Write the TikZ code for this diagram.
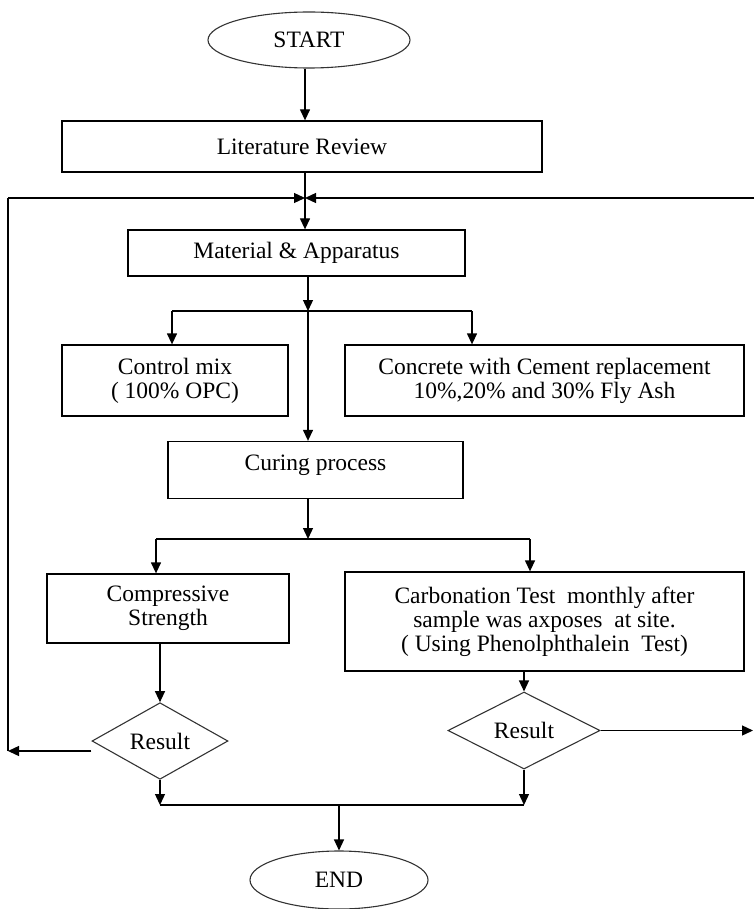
\documentclass[tikz,border=0pt]{standalone}
\usepackage{fontspec}
\setmainfont{Liberation Serif}
\usetikzlibrary{shapes.geometric,arrows.meta}

\tikzset{
  process/.style={rectangle, draw=black, line width=1.3pt, align=center, inner sep=0pt},
  decision/.style={diamond, draw=black!80, line width=1.1pt, inner sep=0pt,
    minimum width=136, minimum height=72},
  terminal/.style={ellipse, draw=black!80, line width=1.1pt, inner sep=0pt},
  arrow/.style={draw=black, -{Triangle[length=11pt,width=10pt]}}
}

\begin{document}
\begin{tikzpicture}[x=1pt, y=-1pt, line width=1.3pt,
  every node/.style={font=\fontsize{23.5}{24}\selectfont}]
\useasboundingbox (0,0) rectangle (754,909);

\node [terminal, minimum width=202, minimum height=56] (start) at (309,40) {START};
\node [process, minimum width=480, minimum height=51] (lit) at (302,146.5) {Literature Review};
\node [process, minimum width=337, minimum height=46] (mat) at (296.5,253) {Material \& Apparatus};
\node [process, minimum width=226, minimum height=71] (ctrl) at (175,380.5) {Control mix\\( 100\% OPC)};
\node [process, minimum width=399, minimum height=71] (conc) at (544.5,380.5)
  {Concrete with Cement replacement\\10\%,20\% and 30\% Fly Ash};
\node [process, minimum width=295, minimum height=57, text depth=14pt] (cure) at (315.5,470) {Curing process};
\node [process, minimum width=242, minimum height=69] (comp) at (168,608.5) {Compressive\\Strength};
\node [process, minimum width=399, minimum height=99] (carb) at (544.5,621.5)
  {Carbonation Test~~monthly after\\sample was axposes~~at site.\\( Using Phenolphthalein~~Test)};
\node [decision] (res1) at (160,741) {Result};
\node [decision, minimum width=152, minimum height=77] (res2) at (524,730.5) {Result};
\node [terminal, minimum width=178, minimum height=58] (end) at (339,880) {END};

% junctions
\coordinate (join) at (305,198);
\coordinate (split1) at (308,311);
\coordinate (c1) at (172,311);
\coordinate (c2) at (472,311);
\coordinate (split2) at (308,539);
\coordinate (d1) at (156,539);
\coordinate (d2) at (530,539);
\coordinate (merge) at (339,805);
\coordinate (loopL) at (8,198);
\coordinate (backL) at (8,751);
\coordinate (loopR) at (754,198);
\coordinate (backR) at (753,730.5);

\draw [arrow] (start.south -| join) -- (lit.north -| join);
\draw [arrow] (lit.south -| join) -- (mat.north -| join);
\draw [arrow] (loopL) -- (join);
\draw [arrow] (loopR) -- (join);

\draw [arrow] (mat.south -| split1) -- (split1);
\draw (c1) -- (c2);
\draw [arrow] (c1) -- (c1 |- ctrl.north);
\draw [arrow] (c2) -- (c2 |- conc.north);
\draw [arrow] (split1) -- (split1 |- cure.north);

\draw [arrow] (cure.south -| split2) -- (split2);
\draw (d1) -- (d2);
\draw [arrow] (d1) -- (d1 |- comp.north);
\draw [arrow] (d2) -- (d2 |- carb.north);

\draw [arrow] (comp.south -| res1) -- (res1.north);
\draw [arrow] (carb.south -| res2) -- (res2.north);

\draw [arrow] ([yshift=-10pt]res1.west) -- (backL);
\draw (backL) -- (loopL);
\draw [arrow] (res2.east) -- (backR);

\draw [arrow] (res1.south) -- (res1.south |- merge);
\draw [arrow] (res2.south) -- (res2.south |- merge);
\draw (res1.south |- merge) -- (res2.south |- merge);
\draw [arrow] (merge) -- (end.north -| merge);
\end{tikzpicture}
\end{document}
